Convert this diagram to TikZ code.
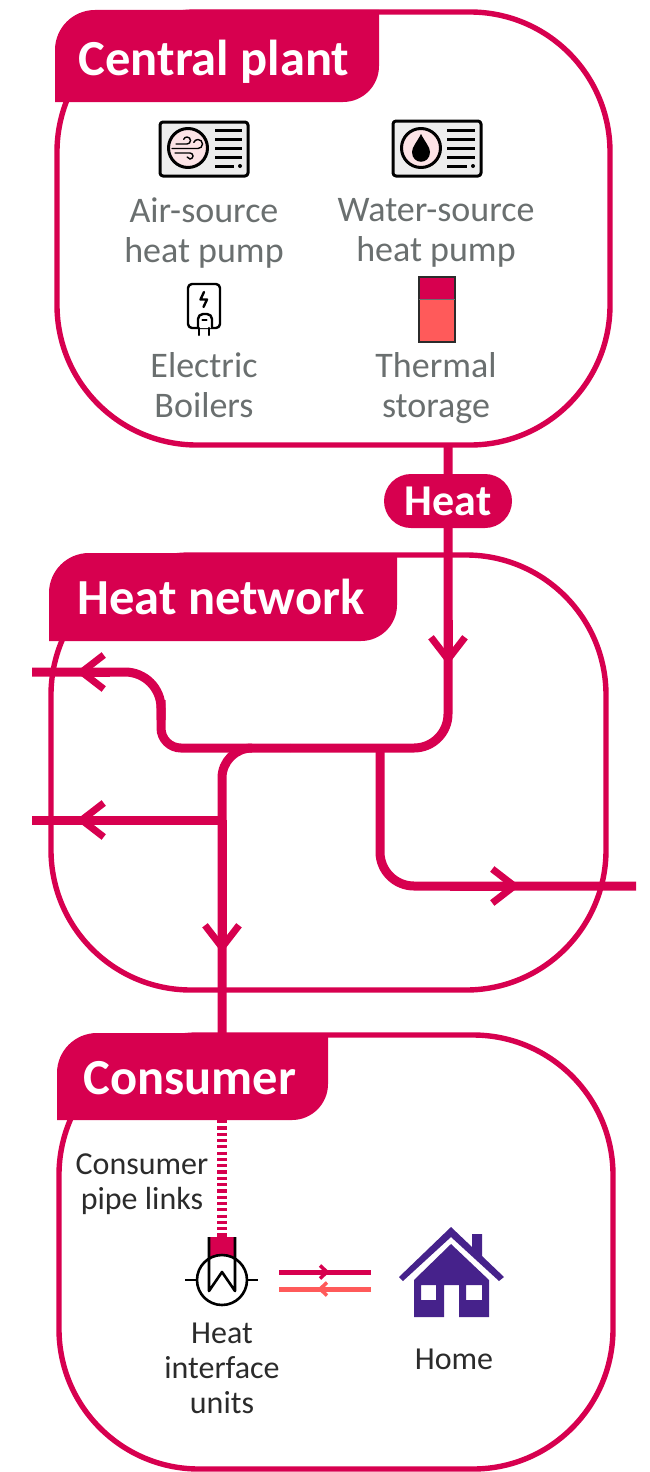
\documentclass[tikz,border=0pt]{standalone}
\usepackage{fontspec}
\setmainfont{Carlito}
\usetikzlibrary{arrows.meta}
\definecolor{ovored}{HTML}{D7004F}
\definecolor{coral}{HTML}{FF5A5A}
\definecolor{homepurple}{HTML}{46228B}
\definecolor{labelgrey}{HTML}{6A6F6F}
\definecolor{labeldark}{HTML}{2B2B2B}
\definecolor{pumpgrey}{HTML}{EDEDED}
\definecolor{fanpink}{HTML}{FCE3E6}
\tikzset{
  zone/.style={draw=ovored,line width=5.4pt,rounded corners=140pt},
  tabfill/.style={fill=ovored},
  heading/.style={text=white,font=\fontsize{50.5}{50.5}\selectfont\bfseries,anchor=base},
  pipe/.style={draw=ovored,line width=9pt},
  barb/.style={-{Straight Barb[length=22pt,width=34pt,line width=7pt]}},
  grey label/.style={text=labelgrey,font=\fontsize{36}{39.5}\selectfont,align=center,anchor=center},
  dark label/.style={text=labeldark,font=\fontsize{32}{35}\selectfont,align=center,anchor=center},
  icon/.style={draw=black,line width=3pt,line cap=round,line join=round},
  thin icon/.style={draw=black,line width=2.4pt,line cap=round,line join=round},
  pumpline/.style={draw=black,line width=3pt},
}
\begin{document}
\begin{tikzpicture}[x=1pt,y=-1pt]
  \useasboundingbox (0,0) rectangle (650,1472);

  % zones
  \draw[zone] (57,12) rectangle (610,445);
  \draw[zone] (51,555) rectangle (606,990);
  \draw[zone] (59,1035) rectangle (613,1469);

  \fill[tabfill] (55,102) [rounded corners=40pt] -- (55,10) [sharp corners] -- (379,10) [rounded corners=36pt] -- (379,102) [sharp corners] -- cycle;
  \fill[tabfill] (49,641) [rounded corners=40pt] -- (49,553) [sharp corners] -- (397,553) [rounded corners=36pt] -- (397,641) [sharp corners] -- cycle;
  \fill[tabfill] (57,1120) [rounded corners=40pt] -- (57,1033) [sharp corners] -- (328,1033) [rounded corners=36pt] -- (328,1120) [sharp corners] -- cycle;

  \node[heading] (planthead) at (214,76) {Central plant};
  \node[heading] (nethead) at (221,614) {Heat network};
  \node[heading] (conshead) at (190,1094) {Consumer};

  % pipes
  \coordinate (plantout) at (448,445);
  \coordinate (dropstem) at (448,620);
  \coordinate (droptip) at (448,665);
  \coordinate (mainbend) at (448,748);
  \coordinate (mainmid) at (290,748);
  \coordinate (westbend) at (161,748);
  \coordinate (westlow) at (161,700);
  \coordinate (westhigh) at (161,720);
  \coordinate (westup) at (161,672);
  \coordinate (weststem) at (110,672);
  \coordinate (westtip) at (76,672);
  \coordinate (westend) at (32,672);
  \coordinate (feedstart) at (250,748);
  \coordinate (feedtop) at (222,748);
  \coordinate (feedjoin) at (222,820);
  \coordinate (feedtip) at (222,953);
  \coordinate (feedend) at (222,1035);
  \coordinate (midtip) at (76,820);
  \coordinate (midend) at (32,820);
  \coordinate (easttop) at (380,748);
  \coordinate (eastbend) at (380,886);
  \coordinate (eaststem) at (450,886);
  \coordinate (easttip) at (520,886);
  \coordinate (eastend) at (636,886);

  \draw[pipe,rounded corners=34pt] (plantout) -- (mainbend) -- (mainmid);
  \draw[pipe,rounded corners=20pt] (mainmid) -- (westbend) -- (westlow);
  \draw[pipe,rounded corners=36pt] (westhigh) -- (westup) -- (westend);
  \draw[pipe,rounded corners=30pt] (feedstart) -- (feedtop) -- (feedend);
  \draw[pipe] (feedjoin) -- (midend);
  \draw[pipe,rounded corners=34pt] (easttop) -- (eastbend) -- (eastend);
  \begin{scope}[pipe,barb]
    \draw (dropstem) -- (droptip);
    \draw (weststem) -- (westtip);
    \draw (feedjoin) -- (feedtip);
    \draw (feedjoin) -- (midtip);
    \draw (eaststem) -- (easttip);
  \end{scope}

  \node[fill=ovored,text=white,font=\fontsize{44}{44}\selectfont\bfseries,rounded corners=27pt,minimum width=128pt,minimum height=54pt,inner sep=0pt] (heatpill) at (448,501) {Heat};

  % central plant
  \draw[icon,fill=pumpgrey,rounded corners=3pt] (160,122) rectangle (248,176);
  \draw[icon,fill=fanpink] (188,148) circle (19.5);
  \foreach \y in {130,139,148,157} \draw[pumpline] (215,\y) -- (242,\y);
  \draw[pumpline] (215,166) -- (234,166);
  \fill (240,166) circle (2);
  \begin{scope}[draw=black,line width=1.4pt,line cap=round]
    \draw (176,144) -- (187,144) arc (90:-160:3.5);
    \draw (172,148.5) -- (198,148.5) arc (90:-160:4.5);
    \draw (175,153) -- (190,153) arc (-90:160:3);
  \end{scope}

  \draw[icon,fill=pumpgrey,rounded corners=3pt] (393,121) rectangle (481,176);
  \draw[icon,fill=fanpink] (421,148) circle (19.5);
  \foreach \y in {130,139,148,157} \draw[pumpline] (447,\y) -- (475,\y);
  \draw[pumpline] (447,166) -- (467,166);
  \fill (473,166) circle (2);
  \fill (421,134) .. controls (417,142) and (412,147) .. (412,152) .. controls (412,165) and (430,165) .. (430,152) .. controls (430,147) and (425,142) .. (421,134) -- cycle;

  \draw[thin icon,rounded corners=4pt] (188,284) rectangle (220,328);
  \draw[thin icon] (204,292) -- (200.5,299.5) -- (207,299.5) -- (203.5,307);
  \draw[thin icon,fill=white,rounded corners=5pt] (198,328) -- (198,314) -- (212,314) -- (212,328);
  \draw[thin icon] (199,328) -- (199,335) (209,328) -- (209,335) (202.5,320) -- (206.5,320);

  \fill[coral] (418,276) rectangle (455,342);
  \fill[ovored] (418,276) rectangle (455,299);
  \draw[draw=labeldark,line width=2pt] (419,277) rectangle (455,342);
  \draw[draw=labelgrey,line width=1pt] (419,299) -- (455,299);

  \node[grey label] (airlabel) at (204,233) {Air-source\\heat pump};
  \node[grey label] (waterlabel) at (436,233) {Water-source\\heat pump};
  \node[grey label] (boilerlabel) at (204,385) {Electric\\Boilers};
  \node[grey label] (storelabel) at (436,388) {Thermal\\storage};

  % consumer
  \coordinate (linktop) at (222,1120);
  \coordinate (linkend) at (222,1237);
  \draw[draw=ovored,line width=10pt,dash pattern=on 3.2pt off 3.1pt] (linktop) -- (linkend);

  \fill[ovored] (209,1237) rectangle (235,1262);
  \draw[icon,fill=white,line width=2.6pt] (222,1280) circle (25);
  \draw[icon,line width=2.6pt,line cap=butt] (209,1237) -- (209,1291) -- (222,1272) -- (235,1291) -- (235,1237);
  \draw[icon,line width=2.6pt,line cap=butt] (185,1280) -- (197,1280) (247,1280) -- (258,1280);

  \coordinate (hiuout) at (279,1272);
  \coordinate (homein) at (371,1272);
  \coordinate (homeout) at (371,1289);
  \coordinate (hiuin) at (279,1289);
  \draw[draw=ovored,line width=5pt] (hiuout) -- (homein);
  \draw[draw=coral,line width=5pt] (homeout) -- (hiuin);
  \draw[draw=ovored,line width=3.5pt] (320,1265.5) -- (327,1272) -- (320,1278.5);
  \draw[draw=coral,line width=3.5pt] (327,1282.5) -- (320,1289) -- (327,1295.5);

  \fill[homepurple] (451,1227) -- (472,1247) -- (472,1234) -- (482,1234) -- (482,1256) -- (504,1277) -- (499,1281) -- (451,1237) -- (403,1281) -- (399,1277) -- cycle;
  \fill[homepurple,even odd rule] (451,1244) -- (489,1280) -- (489,1317) -- (459,1317) -- (459,1285) -- (444,1285) -- (444,1317) -- (414,1317) -- (414,1280) -- cycle
    (421,1285) rectangle (436,1300) (466,1285) rectangle (482,1300);

  \node[dark label] (linklabel) at (142,1184) {Consumer\\pipe links};
  \node[dark label] (hiulabel) at (222,1368) {Heat\\interface\\units};
  \node[dark label] (homelabel) at (454,1359) {Home};
\end{tikzpicture}
\end{document}
